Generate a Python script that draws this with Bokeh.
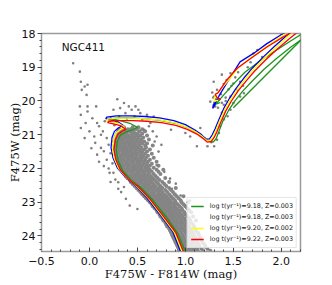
from bokeh.plotting import figure
from bokeh.models import Range1d, SingleIntervalTicker, Legend, LegendItem, Label
from bokeh.embed import file_html
from bokeh.resources import INLINE

# ---------------- data ----------------
x_ticks = [-0.5, 0.0, 0.5, 1.0, 1.5, 2.0]
x_tick_labels = ["\u22120.5", "0.0", "0.5", "1.0", "1.5", "2.0"]
y_ticks = [18, 19, 20, 21, 22, 23, 24]

# main-sequence band, rows of (magnitude, colours)
ms_row_mag = [20.78, 20.84, 20.90, 20.96, 21.02, 21.08, 21.14, 21.20, 21.26, 21.32, 21.38, 21.44,
              21.50, 21.56, 21.62, 21.68, 21.74, 21.80, 21.86, 21.92, 21.98, 22.04, 22.10, 22.16,
              22.22, 22.28, 22.34, 22.40, 22.46, 22.52, 22.58, 22.64, 22.70, 22.76, 22.82, 22.88,
              22.94, 23.00, 23.06, 23.12, 23.18, 23.24, 23.30, 23.36, 23.42, 23.48, 23.54, 23.60,
              23.66, 23.72, 23.78, 23.84, 23.90, 23.96, 24.02, 24.08, 24.14, 24.20, 24.26, 24.32,
              24.38, 24.44]
ms_row_col = [
    [0.36, 0.45, 0.51],
    [0.31, 0.35, 0.40, 0.43, 0.49, 0.55],
    [0.30, 0.33, 0.38, 0.42, 0.46, 0.52, 0.58],
    [0.29, 0.32, 0.36, 0.39, 0.44, 0.47, 0.50, 0.55],
    [0.28, 0.31, 0.35, 0.38, 0.41, 0.45, 0.49, 0.53, 0.60],
    [0.27, 0.30, 0.33, 0.37, 0.40, 0.43, 0.47, 0.51, 0.56],
    [0.27, 0.31, 0.34, 0.36, 0.40, 0.44, 0.46, 0.50, 0.54, 0.62],
    [0.26, 0.29, 0.32, 0.35, 0.39, 0.42, 0.45, 0.49, 0.53, 0.57],
    [0.27, 0.30, 0.33, 0.37, 0.41, 0.43, 0.47, 0.51, 0.55, 0.60],
    [0.26, 0.29, 0.32, 0.36, 0.38, 0.42, 0.45, 0.48, 0.52, 0.58, 0.66],
    [0.27, 0.30, 0.34, 0.37, 0.40, 0.44, 0.47, 0.50, 0.54, 0.59],
    [0.27, 0.31, 0.33, 0.36, 0.39, 0.43, 0.46, 0.49, 0.53, 0.57, 0.63],
    [0.28, 0.30, 0.34, 0.38, 0.41, 0.44, 0.48, 0.52, 0.55, 0.60],
    [0.27, 0.31, 0.35, 0.37, 0.40, 0.44, 0.47, 0.50, 0.54, 0.58, 0.65],
    [0.28, 0.32, 0.34, 0.38, 0.42, 0.45, 0.49, 0.53, 0.56, 0.61],
    [0.29, 0.31, 0.35, 0.39, 0.41, 0.45, 0.48, 0.52, 0.55, 0.59, 0.67],
    [0.29, 0.33, 0.36, 0.40, 0.43, 0.47, 0.50, 0.54, 0.58, 0.63],
    [0.30, 0.33, 0.37, 0.40, 0.44, 0.46, 0.50, 0.53, 0.57, 0.61, 0.70],
    [0.31, 0.34, 0.38, 0.41, 0.45, 0.49, 0.52, 0.56, 0.60, 0.65],
    [0.32, 0.35, 0.39, 0.42, 0.46, 0.48, 0.52, 0.55, 0.59, 0.63, 0.72],
    [0.33, 0.36, 0.40, 0.44, 0.47, 0.50, 0.54, 0.58, 0.61, 0.67],
    [0.34, 0.38, 0.41, 0.45, 0.48, 0.52, 0.55, 0.59, 0.63, 0.70, 0.77],
    [0.35, 0.39, 0.43, 0.46, 0.50, 0.53, 0.57, 0.61, 0.65, 0.72],
    [0.37, 0.40, 0.44, 0.48, 0.51, 0.55, 0.58, 0.62, 0.67, 0.74],
    [0.38, 0.42, 0.46, 0.49, 0.53, 0.56, 0.60, 0.64, 0.69],
    [0.40, 0.44, 0.47, 0.51, 0.54, 0.58, 0.62, 0.66, 0.71, 0.79],
    [0.42, 0.45, 0.49, 0.53, 0.56, 0.60, 0.64, 0.68, 0.73],
    [0.43, 0.47, 0.51, 0.54, 0.58, 0.62, 0.65, 0.70, 0.76, 0.83],
    [0.45, 0.49, 0.52, 0.56, 0.60, 0.63, 0.67, 0.72, 0.78],
    [0.47, 0.51, 0.55, 0.58, 0.62, 0.66, 0.69, 0.74, 0.80],
    [0.49, 0.53, 0.57, 0.60, 0.64, 0.68, 0.72, 0.76, 0.83, 0.90],
    [0.51, 0.55, 0.59, 0.62, 0.66, 0.70, 0.74, 0.79, 0.85],
    [0.53, 0.57, 0.61, 0.65, 0.68, 0.72, 0.76, 0.81, 0.87],
    [0.55, 0.59, 0.63, 0.67, 0.71, 0.74, 0.78, 0.83, 0.89],
    [0.57, 0.61, 0.65, 0.69, 0.72, 0.76, 0.80, 0.85, 0.91, 0.98],
    [0.59, 0.63, 0.67, 0.71, 0.74, 0.78, 0.82, 0.87, 0.93],
    [0.61, 0.65, 0.69, 0.72, 0.76, 0.80, 0.84, 0.89, 0.95],
    [0.63, 0.67, 0.70, 0.74, 0.78, 0.82, 0.86, 0.90, 0.96, 1.03],
    [0.65, 0.68, 0.72, 0.76, 0.80, 0.84, 0.88, 0.92, 0.98],
    [0.66, 0.70, 0.74, 0.78, 0.82, 0.85, 0.89, 0.94, 1.00],
    [0.68, 0.72, 0.76, 0.79, 0.83, 0.87, 0.91, 0.96, 1.02],
    [0.70, 0.73, 0.77, 0.81, 0.85, 0.89, 0.93, 0.97, 1.04],
    [0.71, 0.75, 0.79, 0.83, 0.86, 0.90, 0.94, 0.99, 1.06],
    [0.73, 0.77, 0.80, 0.84, 0.88, 0.92, 0.96, 1.00],
    [0.74, 0.78, 0.82, 0.86, 0.89, 0.93, 0.97, 1.02, 1.08],
    [0.76, 0.80, 0.83, 0.87, 0.91, 0.95, 0.99, 1.04],
    [0.77, 0.81, 0.85, 0.88, 0.92, 0.96, 1.00, 1.05, 1.11],
    [0.79, 0.82, 0.86, 0.90, 0.94, 0.97, 1.01, 1.06],
    [0.80, 0.84, 0.87, 0.91, 0.95, 0.99, 1.03, 1.08],
    [0.81, 0.85, 0.89, 0.92, 0.96, 1.00, 1.04, 1.09],
    [0.83, 0.86, 0.90, 0.94, 0.97, 1.01, 1.05, 1.10],
    [0.84, 0.87, 0.91, 0.95, 0.99, 1.02, 1.06, 1.11],
    [0.85, 0.89, 0.92, 0.96, 1.00, 1.04, 1.08, 1.13],
    [0.86, 0.90, 0.93, 0.97, 1.01, 1.05, 1.09, 1.14],
    [0.87, 0.91, 0.95, 0.98, 1.02, 1.06, 1.10, 1.15],
    [0.88, 0.92, 0.96, 0.99, 1.03, 1.07, 1.11, 1.16],
    [0.89, 0.93, 0.97, 1.00, 1.04, 1.08, 1.12, 1.17],
    [0.90, 0.94, 0.98, 1.01, 1.05, 1.09, 1.13, 1.18],
    [0.91, 0.95, 0.99, 1.02, 1.06, 1.10, 1.14, 1.20],
    [0.92, 0.96, 1.00, 1.03, 1.07, 1.11, 1.15, 1.21],
    [0.93, 0.97, 1.00, 1.04, 1.08, 1.12, 1.17, 1.23],
    [0.93, 0.97, 1.01, 1.05, 1.09, 1.13, 1.18, 1.26],
]

# sparse stars (field, blue stragglers, sub-giants, giants, clump)
field_col = [-0.17, -0.10, -0.09, -0.05, -0.02, -0.08, -0.03, -0.10, -0.02, 0.07, -0.02, -0.09,
             0.03, -0.04, 0.08, -0.09, 0.00, 0.05, 0.12, 0.06, 0.12, 0.15, 0.08, 0.18, 0.15, 0.21,
             0.25, 0.27, 0.30, 0.10, 0.14, 0.18, 0.20, 0.22, 0.24, 0.20, 0.10, 0.02, -0.05, 0.16,
             0.22, 0.30, 0.33, 0.38, 0.42, 0.45, 0.36, 0.50,
             0.29, 0.36, 0.41, 0.32, 0.25, 0.44, 0.48, 0.51, 0.375, 0.53, 0.60, 0.31, 0.22, 0.635,
             0.67, 0.57, 0.39, 0.47, 0.55, 0.28, 0.62, 0.66, 0.70, 0.26,
             0.72, 0.70, 0.78, 0.84, 0.86, 0.95, 1.00, 0.75, 0.90, 1.05, 0.68,
             1.00, 1.156, 1.12, 1.23, 1.30, 1.27, 1.05, 0.85, 1.20,
             1.47, 1.43, 1.50, 1.57, 1.54, 1.47, 1.33, 1.30, 1.35, 1.26, 1.31, 1.40, 1.47, 1.50,
             1.57, 1.61, 1.71, 1.75, 1.36, 1.35, 1.33, 1.28, 1.32, 1.38, 1.42, 1.45, 1.52, 1.55,
             1.60, 1.30, 1.34, 1.38, 1.44, 1.40, 1.29, 1.37, 1.42, 1.48, 1.65, 1.68, 1.80, 1.40,
             1.38, 1.295]
field_mag = [18.88, 19.13, 19.43, 19.57, 19.52, 19.67, 19.82, 20.16, 20.16, 20.16, 20.31, 20.41,
             20.51, 20.65, 20.65, 20.80, 20.90, 21.05, 21.00, 21.24, 21.39, 21.49, 21.59, 21.74,
             21.93, 22.13, 22.13, 22.33, 22.41, 20.75, 20.90, 21.10, 21.30, 21.55, 21.85, 22.00,
             21.80, 21.40, 21.10, 20.60, 22.40, 22.60, 22.70, 22.90, 23.10, 22.45, 22.55, 23.20,
             19.95, 20.06, 20.16, 20.21, 20.26, 20.26, 20.16, 20.26, 20.36, 20.36, 20.41, 20.46,
             20.51, 20.65, 20.46, 20.85, 20.52, 20.45, 20.55, 20.62, 20.75, 20.90, 21.05, 20.72,
             21.50, 21.90, 22.10, 22.30, 22.60, 22.80, 23.10, 21.30, 22.45, 22.95, 21.20,
             20.95, 20.80, 21.34, 21.34, 21.34, 21.22, 21.05, 20.85, 21.10,
             19.18, 19.38, 19.48, 19.43, 19.67, 19.87, 19.67, 19.87, 19.97, 20.02, 20.16, 20.11,
             20.26, 20.06, 19.87, 19.77, 18.59, 18.49, 20.75, 20.95, 21.15, 19.75, 19.95, 20.05,
             19.90, 19.65, 19.30, 19.15, 19.55, 20.05, 20.20, 20.35, 20.45, 20.55, 19.90, 19.80,
             20.00, 19.55, 19.00, 18.85, 18.70, 19.50, 19.22, 19.43]

# isochrones: main branch (MS -> turn-off -> SGB -> RGB) and HB/AGB branch
green_x = [1.00, 0.92, 0.80, 0.665, 0.53, 0.44, 0.345, 0.30, 0.28, 0.29, 0.32, 0.38, 0.45, 0.50,
           0.42, 0.32, 0.24, 0.21, 0.30, 0.45, 0.60, 0.75, 0.90, 1.03, 1.13, 1.19, 1.25, 1.29,
           1.32, 1.35, 1.39, 1.45, 1.52, 1.60, 1.70, 1.82, 1.95, 2.10, 2.25]
green_y = [24.46, 23.92, 23.43, 22.95, 22.55, 22.36, 22.06, 21.77, 21.48, 21.20, 21.02, 20.92,
           20.85, 20.78, 20.66, 20.58, 20.54, 20.52, 20.50, 20.50, 20.53, 20.58, 20.66, 20.80,
           20.95, 21.08, 21.18, 21.22, 21.12, 20.90, 20.60, 20.28, 19.98, 19.70, 19.40, 19.06,
           18.74, 18.40, 18.10]
green_agb_x = [1.36, 1.31, 1.30, 1.33, 1.40, 1.50, 1.62, 1.76, 1.92, 2.08, 2.25]
green_agb_y = [20.05, 20.10, 20.15, 20.05, 19.82, 19.50, 19.15, 18.85, 18.55, 18.25, 17.95]
green_tip_x = [1.50, 2.22]
green_tip_y = [20.20, 18.15]

blue_x = [0.95, 0.87, 0.74, 0.60, 0.47, 0.38, 0.29, 0.245, 0.225, 0.235, 0.26, 0.30, 0.35, 0.30,
          0.22, 0.17, 0.18, 0.28, 0.43, 0.58, 0.73, 0.88, 1.00, 1.10, 1.16, 1.21, 1.25, 1.28,
          1.31, 1.35, 1.40, 1.46, 1.53, 1.61, 1.70, 1.81, 1.93, 2.06, 2.20]
blue_y = [24.46, 23.88, 23.38, 22.88, 22.48, 22.28, 21.98, 21.68, 21.38, 21.08, 20.90, 20.80,
          20.72, 20.62, 20.56, 20.52, 20.48, 20.44, 20.44, 20.46, 20.50, 20.58, 20.70, 20.86,
          20.98, 21.12, 21.13, 21.00, 20.82, 20.55, 20.22, 19.92, 19.62, 19.32, 19.02, 18.70,
          18.38, 18.05, 17.75]
blue_agb_x = [1.32, 1.29, 1.285, 1.30, 1.35, 1.45, 1.57, 1.71, 1.85, 1.99, 2.12]
blue_agb_y = [20.02, 20.12, 20.22, 20.15, 19.85, 19.38, 18.84, 18.59, 18.30, 18.05, 17.85]

yellow_x = [0.965, 0.885, 0.755, 0.62, 0.485, 0.395, 0.305, 0.26, 0.24, 0.255, 0.28, 0.32, 0.365,
            0.315, 0.235, 0.18, 0.19, 0.29, 0.44, 0.59, 0.74, 0.89, 1.01, 1.11, 1.17, 1.22,
            1.26, 1.29, 1.32, 1.36, 1.41, 1.47, 1.54, 1.62, 1.71, 1.82, 1.94, 2.07, 2.21]
yellow_y = [24.46, 23.89, 23.40, 22.90, 22.50, 22.30, 22.00, 21.71, 21.41, 21.12, 20.94, 20.85,
            20.78, 20.68, 20.62, 20.58, 20.54, 20.51, 20.51, 20.53, 20.57, 20.65, 20.77, 20.92,
            21.04, 21.16, 21.17, 21.04, 20.86, 20.58, 20.26, 19.96, 19.66, 19.36, 19.06, 18.74,
            18.42, 18.08, 17.78]
yellow_agb_x = [1.34, 1.305, 1.30, 1.32, 1.37, 1.44, 1.55, 1.69, 1.85, 2.00, 2.14]
yellow_agb_y = [19.98, 20.00, 19.92, 19.80, 19.65, 19.42, 19.02, 18.70, 18.38, 18.08, 17.85]

red_x = [0.98, 0.90, 0.77, 0.635, 0.50, 0.41, 0.32, 0.275, 0.255, 0.27, 0.30, 0.34, 0.38, 0.33,
         0.25, 0.19, 0.20, 0.30, 0.45, 0.60, 0.75, 0.90, 1.02, 1.12, 1.18, 1.23, 1.27, 1.30,
         1.33, 1.37, 1.42, 1.48, 1.55, 1.63, 1.72, 1.83, 1.95, 2.08, 2.22]
red_y = [24.46, 23.90, 23.41, 22.92, 22.52, 22.33, 22.03, 21.74, 21.44, 21.15, 20.98, 20.90,
         20.84, 20.74, 20.68, 20.64, 20.60, 20.58, 20.58, 20.60, 20.64, 20.72, 20.84, 20.98,
         21.10, 21.22, 21.20, 21.08, 20.90, 20.62, 20.30, 20.00, 19.70, 19.42, 19.12, 18.80,
         18.48, 18.16, 17.85]
red_agb_x = [1.37, 1.33, 1.31, 1.34, 1.43, 1.54, 1.68, 1.85, 2.02, 2.15]
red_agb_y = [19.95, 19.90, 19.80, 19.76, 19.38, 19.03, 18.74, 18.40, 18.10, 17.90]

legend_labels = ["log t(yr\u207b\u00b9)=9.18, Z=0.003", "log t(yr\u207b\u00b9)=9.18, Z=0.003",
                 "log t(yr\u207b\u00b9)=9.20, Z=0.002", "log t(yr\u207b\u00b9)=9.22, Z=0.003"]

# ---------------- figure ----------------
p = figure(width=332, height=285, output_backend="svg", toolbar_location=None,
           x_range=Range1d(-0.5, 2.2), y_range=Range1d(24.46, 18.0),
           min_border_left=41, min_border_right=32, min_border_top=33, min_border_bottom=34)
p.grid.visible = False
p.outline_line_color = "#9a9a9a"
p.outline_line_width = 1.5

ms_x = [c for row in ms_row_col for c in row]
ms_y = [m for m, row in zip(ms_row_mag, ms_row_col) for _ in row]
p.scatter(ms_x, ms_y, size=4.0, color="#858585", line_width=0)
p.scatter(field_col, field_mag, size=2.6, color="#7f7f7f", line_width=0)

gw = 1.3
g1 = p.line(green_x, green_y, color="#1a961a", line_width=gw)
p.line(green_agb_x, green_agb_y, color="#1a961a", line_width=gw)
p.line(green_tip_x, green_tip_y, color="#1a961a", line_width=gw)
p.line(blue_x, blue_y, color="#0000ff", line_width=gw)
p.line(blue_agb_x, blue_agb_y, color="#0000ff", line_width=gw)
b_leg = p.line([], [], color="#8a8aff", line_width=2.5)
y1 = p.line(yellow_x, yellow_y, color="#ffff00", line_width=gw)
p.line(yellow_agb_x, yellow_agb_y, color="#ffff00", line_width=gw)
r1 = p.line(red_x, red_y, color="#ff0000", line_width=gw)
p.line(red_agb_x, red_agb_y, color="#ff0000", line_width=gw)

legend = Legend(items=[LegendItem(label=legend_labels[0], renderers=[g1]),
                       LegendItem(label=legend_labels[1], renderers=[b_leg]),
                       LegendItem(label=legend_labels[2], renderers=[y1]),
                       LegendItem(label=legend_labels[3], renderers=[r1])],
                location="bottom_right", margin=3, padding=3, spacing=1,
                glyph_width=13, glyph_height=10, label_height=10, label_standoff=6,
                label_text_font="DejaVu Sans", label_text_font_size="6.4px",
                label_text_color="#111111",
                border_line_color="#cccccc", background_fill_alpha=0.8)
p.add_layout(legend)

p.add_layout(Label(x=-0.29, y=18.41, text="NGC411", text_font="DejaVu Sans",
                   text_font_size="10.5px", text_baseline="middle", text_color="#111111"))

p.xaxis.ticker = SingleIntervalTicker(interval=0.5, num_minor_ticks=5)
p.yaxis.ticker = SingleIntervalTicker(interval=1, num_minor_ticks=5)
p.xaxis.major_label_overrides = dict(zip(x_ticks, x_tick_labels))
p.yaxis.major_label_overrides = {t: str(t) for t in y_ticks}

for ax in (p.xaxis[0], p.yaxis[0]):
    ax.axis_line_color = "#9a9a9a"
    ax.major_tick_line_color = "#444444"
    ax.minor_tick_line_color = "#444444"
    ax.major_label_text_font = "DejaVu Sans"
    ax.major_label_text_font_size = "11px"
    ax.major_label_text_color = "#111111"
    ax.axis_label_text_font = "DejaVu Serif"
    ax.axis_label_text_font_size = "11.5px"
    ax.axis_label_text_font_style = "normal"
    ax.axis_label_text_color = "#111111"

p.xaxis.axis_label = "F475W - F814W (mag)"
p.yaxis.axis_label = "F475W (mag)"
p.xaxis.major_tick_in = 4
p.xaxis.major_tick_out = 0
p.xaxis.minor_tick_in = 2
p.xaxis.minor_tick_out = 0
p.xaxis.major_label_standoff = 5
p.xaxis.axis_label_standoff = -1
p.yaxis.major_tick_out = 4
p.yaxis.major_tick_in = 0
p.yaxis.minor_tick_out = 2
p.yaxis.minor_tick_in = 0
p.yaxis.major_label_standoff = 2
p.yaxis.axis_label_standoff = -3

open("out.html", "w").write(file_html(p, INLINE))
